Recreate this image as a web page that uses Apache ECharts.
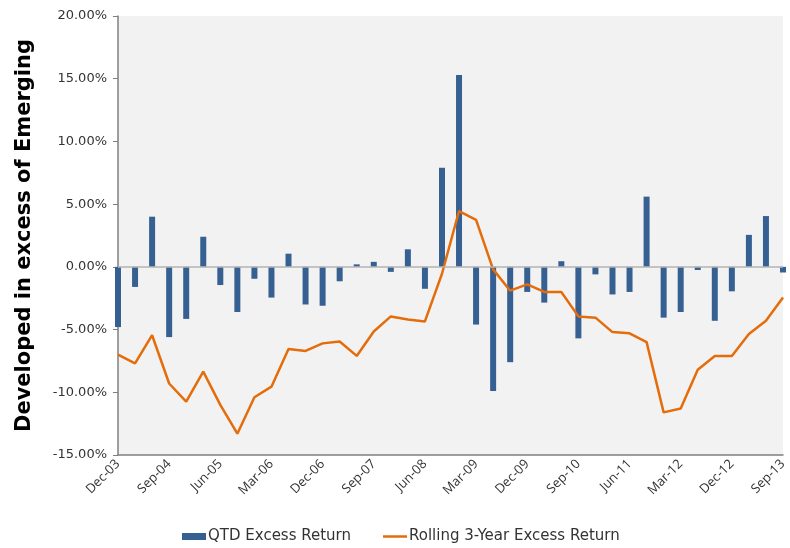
<!DOCTYPE html>
<html>
<head>
<meta charset="utf-8">
<script src="https://cdn.jsdelivr.net/npm/echarts@6/dist/echarts.min.js"></script>
<style>
  html, body { margin: 0; padding: 0; background: #fff; }
  #chart { width: 790px; height: 548px; }
</style>
</head>
<body>
<div id="chart"></div>
<script>
const quarters = [
  'Dec-03', 'Mar-04', 'Jun-04', 'Sep-04', 'Dec-04', 'Mar-05', 'Jun-05', 'Sep-05',
  'Dec-05', 'Mar-06', 'Jun-06', 'Sep-06', 'Dec-06', 'Mar-07', 'Jun-07', 'Sep-07',
  'Dec-07', 'Mar-08', 'Jun-08', 'Sep-08', 'Dec-08', 'Mar-09', 'Jun-09', 'Sep-09',
  'Dec-09', 'Mar-10', 'Jun-10', 'Sep-10', 'Dec-10', 'Mar-11', 'Jun-11', 'Sep-11',
  'Dec-11', 'Mar-12', 'Jun-12', 'Sep-12', 'Dec-12', 'Mar-13', 'Jun-13', 'Sep-13'
]

// QTD excess return, %
const qtdExcess = [
  -4.8, -1.6, 4.0, -5.6, -4.15, 2.4, -1.45, -3.6,
  -0.95, -2.45, 1.05, -3.0, -3.1, -1.15, 0.2, 0.4,
  -0.4, 1.4, -1.75, 7.9, 15.3, -4.6, -9.9, -7.6,
  -2.0, -2.85, 0.45, -5.7, -0.6, -2.2, -2.0, 5.6,
  -4.05, -3.6, -0.25, -4.3, -1.95, 2.55, 4.05, -0.45
]

// rolling 3-year excess return, %
const rolling3y = [
  -7.0, -7.7, -5.45, -9.3, -10.75, -8.35, -11.0, -13.3,
  -10.4, -9.55, -6.55, -6.7, -6.1, -5.95, -7.1, -5.15,
  -3.95, -4.2, -4.35, -0.55, 4.45, 3.75, -0.2, -1.9,
  -1.4, -2.0, -2.0, -3.95, -4.05, -5.2, -5.3, -6.0,
  -11.6, -11.3, -8.2, -7.1, -7.1, -5.35, -4.3, -2.45
]

const yTicks = { min: -15, max: 20, step: 5 }

const chart = echarts.init(document.getElementById('chart'))
const font = 'DejaVu Sans, Verdana, sans-serif'

const option = {
  animation: false,
  textStyle: { fontFamily: font },
  grid: {
    left: 118,
    right: 7,
    top: 16,
    bottom: 93,
    show: true,
    backgroundColor: '#f2f2f2',
    borderWidth: 0
  },
  legend: {
    top: 524,
    left: 177,
    itemGap: 32,
    itemWidth: 24,
    itemHeight: 7,
    textStyle: { fontSize: 15, color: '#333', fontFamily: font, padding: [0, 0, 0, -3] },
    data: [
      { name: 'QTD Excess Return', icon: 'rect' },
      { name: 'Rolling 3-Year Excess Return', icon: 'path://M0 0H24V2.5H0Z' }
    ]
  },
  xAxis: {
    type: 'category',
    data: quarters,
    boundaryGap: false,
    axisLine: { onZero: false, lineStyle: { color: '#7f7f7f', width: 1.5 } },
    axisTick: { show: false },
    axisLabel: {
      interval: 2,
      rotate: 45,
      fontSize: 13,
      color: '#333',
      fontFamily: 'Open Sans, sans-serif',
      margin: 7
    }
  },
  yAxis: {
    type: 'value',
    min: yTicks.min,
    max: yTicks.max,
    interval: yTicks.step,
    name: 'Developed in excess of Emerging',
    nameLocation: 'middle',
    nameGap: 83,
    nameTextStyle: {
      fontSize: 21,
      fontWeight: 'bold',
      color: '#000',
      fontFamily: 'DejaVu Sans, sans-serif'
    },
    axisLine: { show: true, lineStyle: { color: '#7f7f7f', width: 1.5 } },
    axisTick: { show: true, length: 5, lineStyle: { color: '#7f7f7f' } },
    splitLine: { show: false },
    axisLabel: {
      fontSize: 13,
      color: '#333',
      margin: 11,
      formatter: (v) => v.toFixed(2) + '%'
    }
  },
  series: [
    {
      name: 'QTD Excess Return',
      type: 'bar',
      data: qtdExcess,
      barWidth: 6,
      itemStyle: { color: '#376092' },
      markLine: {
        silent: true,
        symbol: 'none',
        label: { show: false },
        lineStyle: { color: '#b3b3b3', type: 'solid', width: 1.5 },
        data: [{ yAxis: 0 }]
      },
      z: 2
    },
    {
      name: 'Rolling 3-Year Excess Return',
      type: 'line',
      data: rolling3y,
      symbol: 'none',
      lineStyle: { color: '#e46c0a', width: 2.5 },
      itemStyle: { color: '#e46c0a' },
      z: 3
    }
  ]
}

chart.setOption(option)
</script>
</body>
</html>
